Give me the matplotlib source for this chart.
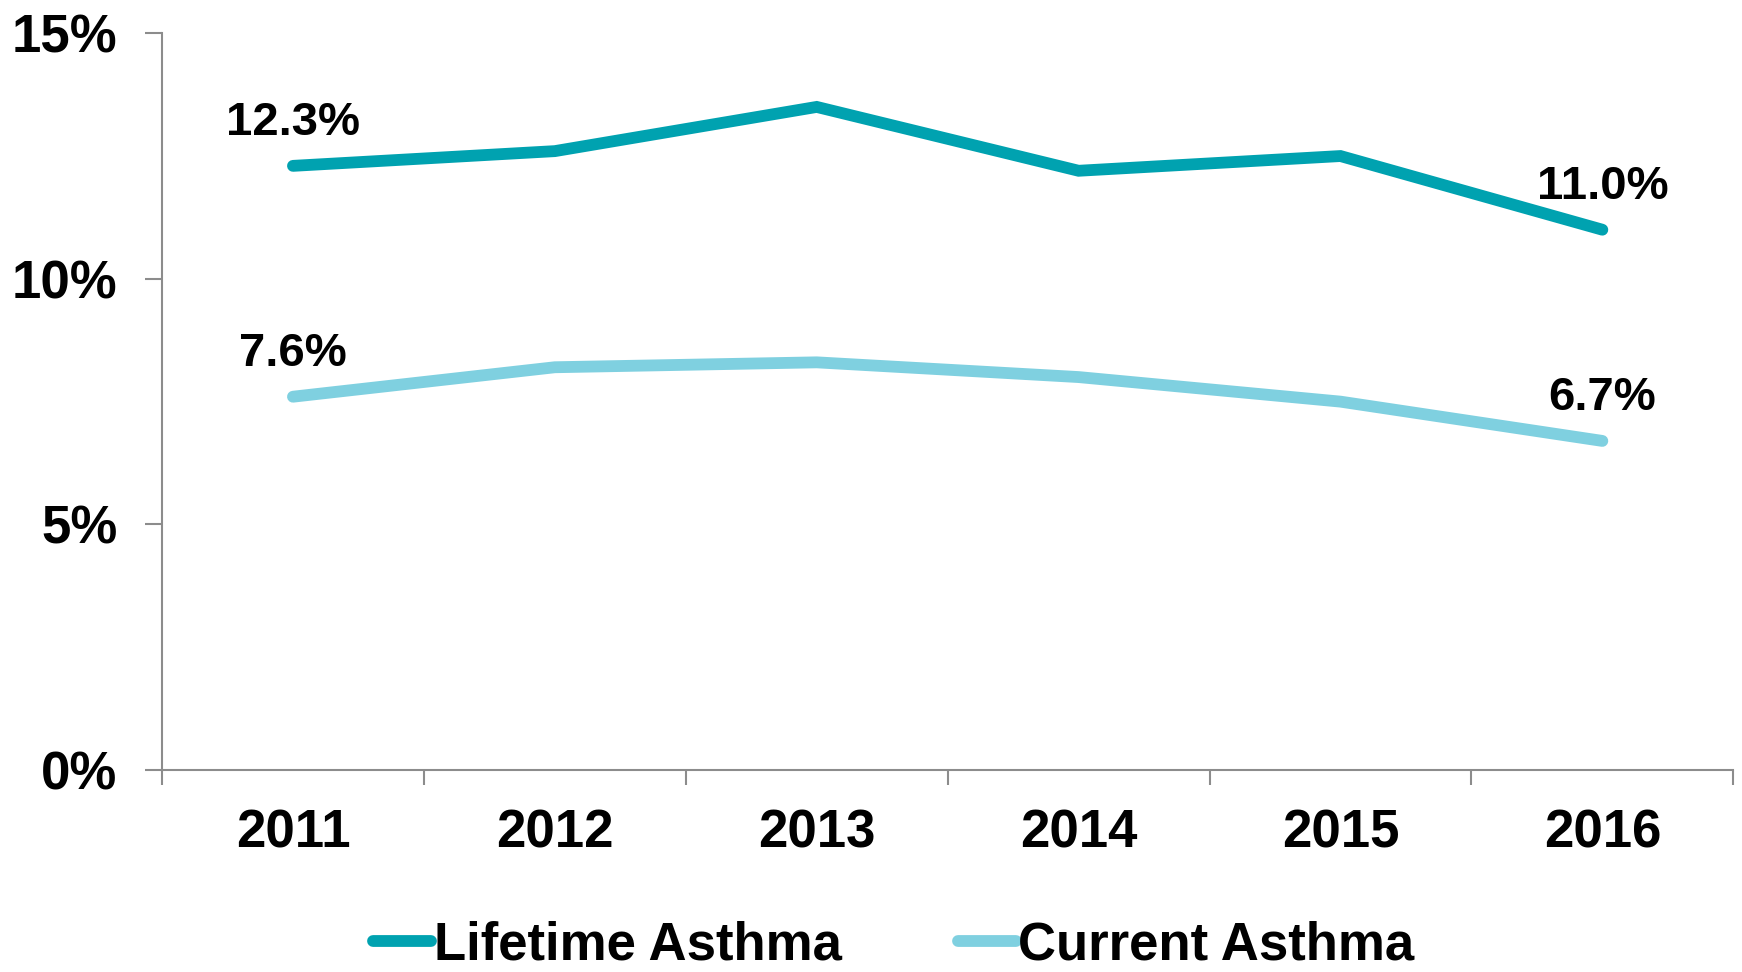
import matplotlib
matplotlib.use("Agg")
import matplotlib.pyplot as plt
from matplotlib.ticker import FixedLocator, FuncFormatter

plt.rcParams["font.family"] = ["Liberation Sans", "DejaVu Sans"]
plt.rcParams["font.weight"] = "bold"

years = ["2011", "2012", "2013", "2014", "2015", "2016"]
lifetime = [12.3, 12.6, 13.5, 12.2, 12.5, 11.0]
current = [7.6, 8.2, 8.3, 8.0, 7.5, 6.7]
labelled = {"Lifetime Asthma": (lifetime, "#00A2B0"), "Current Asthma": (current, "#7FD0E0")}

AXIS_GREY = "#8C8C8C"

fig = plt.figure(figsize=(17.42, 9.72), dpi=100)
ax = fig.add_axes([0.093, 0.2078, 0.902, 0.758])

x = list(range(len(years)))
for name, (values, color) in labelled.items():
    ax.plot(x, values, color=color, linewidth=8.5, solid_capstyle="round",
            solid_joinstyle="miter", label=name)
    # only the first and last points carry a value label
    for idx in (0, len(values) - 1):
        ax.annotate(f"{values[idx]:.1f}%", (x[idx], values[idx]), xytext=(0, 31),
                    textcoords="offset points", ha="center", va="center",
                    fontsize=34, fontweight="bold")

ax.set_xlim(-0.5, len(years) - 0.5)
ax.set_ylim(0, 15)
ax.set_yticks([0, 5, 10, 15])
ax.yaxis.set_major_formatter(FuncFormatter(lambda v, _: f"{v:.0f}%"))
ax.set_xticks(x)
ax.set_xticklabels(years)
ax.xaxis.set_minor_locator(FixedLocator([i - 0.5 for i in range(len(years) + 1)]))

for side in ("top", "right"):
    ax.spines[side].set_visible(False)
for side in ("left", "bottom"):
    ax.spines[side].set_color(AXIS_GREY)
    ax.spines[side].set_linewidth(1.5)

ax.tick_params(axis="y", length=12, width=1.5, color=AXIS_GREY, pad=20, labelsize=38)
ax.tick_params(axis="x", which="major", length=0, pad=28, labelsize=38)
ax.tick_params(axis="x", which="minor", length=11, width=1.5, color=AXIS_GREY)

fig.legend(loc="center", bbox_to_anchor=(0.513, 0.027), ncol=2, frameon=False,
           fontsize=38, handlelength=1.1, handletextpad=0.05, columnspacing=2.2,
           borderaxespad=0)

fig.savefig("out.png", dpi=100)
